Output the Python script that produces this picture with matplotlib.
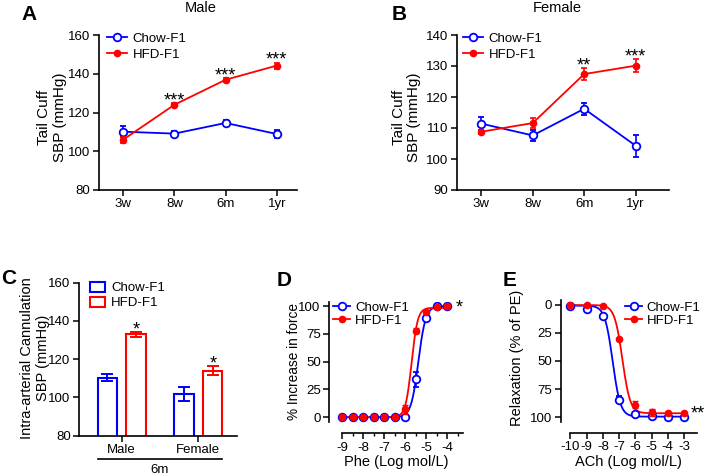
import numpy as np
import matplotlib
matplotlib.use("Agg")
import matplotlib.pyplot as plt
import matplotlib.transforms as mtransforms
from matplotlib.lines import Line2D
from matplotlib.patches import Patch
from matplotlib.ticker import FixedLocator

plt.rcParams["font.family"] = ["Liberation Sans", "DejaVu Sans"]
plt.rcParams["axes.unicode_minus"] = False

BLUE = "#0000ff"
RED = "#ff0000"

# --- A / B: tail cuff SBP over age ---
ages = ["3w", "8w", "6m", "1yr"]
male_chow = [110.1, 109.1, 114.6, 108.9]
male_chow_err = [2.8, 1.4, 1.4, 2.0]
male_hfd = [106.0, 124.0, 136.9, 144.2]
male_hfd_err = [1.6, 0.7, 1.1, 1.6]
male_stars = ["", "***", "***", "***"]

female_chow = [111.4, 107.6, 116.2, 104.3]
female_chow_err = [2.0, 1.7, 2.0, 3.5]
female_hfd = [108.8, 111.6, 127.4, 130.1]
female_hfd_err = [0.7, 1.6, 1.8, 2.0]
female_stars = ["", "", "**", "***"]

# --- C: intra-arterial SBP at 6m ---
sexes = ["Male", "Female"]
ia_chow = [110.4, 101.9]
ia_chow_err = [1.8, 3.7]
ia_hfd = [133.0, 113.9]
ia_hfd_err = [1.3, 2.4]
ia_stars = ["*", "*"]

# --- D: phenylephrine contraction ---
phe_x = [-9, -8.5, -8, -7.5, -7, -6.5, -6, -5.5, -5, -4.5, -4]
phe_chow = [0, 0, 0, 0, 0, 0, 0, 34, 89, 100, 100]
phe_chow_err = [0, 0, 0, 0, 0, 0, 0, 7, 2, 1, 0.5]
phe_hfd = [0, 0, 0, 0, 0, 0, 7, 78, 95, 99, 100]
phe_hfd_err = [0, 0, 0, 0, 0, 0, 4, 2, 1, 1, 0.5]

# --- E: acetylcholine relaxation ---
ach_x = [-10, -9, -8, -7, -6, -5, -4, -3]
ach_chow = [1, 4, 10, 84.5, 97.6, 99, 100, 100]
ach_chow_err = [0.5, 0.5, 0.5, 3, 1, 1, 0.5, 0.5]
ach_hfd = [0, 0.5, 1, 30.5, 89, 95.5, 96.5, 96.5]
ach_hfd_err = [0.5, 0.5, 0.5, 1, 3, 3, 1, 1]

# sigmoid fit parameters: bottom, top, logEC50, hill
phe_chow_fit = (0, 100, -5.38, 2.5)
phe_hfd_fit = (0, 98.5, -5.70, 3.0)
ach_chow_fit = (1, 99.5, -7.40, 1.8)
ach_hfd_fit = (0.5, 96.5, -6.80, 1.8)

W, H = 708, 476
fig = plt.figure(figsize=(W / 100, H / 100), dpi=100)
fig.patch.set_facecolor("white")


def fx(px):
    return px / W


def fy(py):
    return 1 - py / H


def add_axes(l, t, r, b):
    return fig.add_axes([fx(l), fy(b), fx(r) - fx(l), fy(t) - fy(b)])


def style(ax):
    for s in ("top", "right"):
        ax.spines[s].set_visible(False)
    for s in ("left", "bottom"):
        ax.spines[s].set_linewidth(1.2)
    ax.tick_params(direction="out", length=4, width=1.1, labelsize=9.5, pad=2)
    ax.tick_params(which="minor", direction="out", length=2.5, width=1.0)
    ax.set_facecolor("none")


def sigmoid(x, bottom, top, logec50, hill):
    return bottom + (top - bottom) / (1 + 10 ** (hill * (logec50 - x)))


def line_handles():
    return [
        Line2D([], [], color=BLUE, lw=1.3, marker="o", ms=5.5, mfc="white",
               mec=BLUE, mew=1.3, label="Chow-F1"),
        Line2D([], [], color=RED, lw=1.3, marker="o", ms=4.5, mfc=RED,
               mec=RED, label="HFD-F1"),
    ]


def legend_at(ax, handles, left_px, top_px, spacing, hlen=1.45, pad=0.4):
    ax.legend(handles=handles, loc="upper left",
              bbox_to_anchor=(fx(left_px), fy(top_px)),
              bbox_transform=fig.transFigure, frameon=False, fontsize=9.5,
              borderpad=0, borderaxespad=0, handlelength=hlen,
              handletextpad=pad, labelspacing=spacing)


def stars(ax, xs, ys, errs, labels):
    for x, y, e, s in zip(xs, ys, errs, labels):
        if s:
            ax.annotate(s, (x, y + e), xytext=(0, 1.5), textcoords="offset points",
                        ha="center", va="center", fontsize=13)


def time_panel(ax, chow, chow_err, hfd, hfd_err, star_lbl, ylim, yticks, xmax):
    style(ax)
    x = np.arange(len(ages))
    ax.errorbar(x, chow, yerr=chow_err, color=BLUE, lw=1.3, marker="o", ms=5.5,
                mfc="white", mec=BLUE, mew=1.3, capsize=2.5, elinewidth=1.2,
                capthick=1.2, zorder=3)
    ax.errorbar(x, hfd, yerr=hfd_err, color=RED, lw=1.3, marker="o", ms=4.5,
                mfc=RED, mec=RED, capsize=2.5, elinewidth=1.2, capthick=1.2,
                zorder=4)
    stars(ax, x, hfd, hfd_err, star_lbl)
    ax.set_xlim(-0.48, xmax)
    ax.set_ylim(*ylim)
    ax.set_yticks(yticks)
    ax.set_xticks(x)
    ax.set_xticklabels(ages)


# A
axA = add_axes(98.7, 35, 296.7, 190)
time_panel(axA, male_chow, male_chow_err, male_hfd, male_hfd_err, male_stars,
           (80, 160), np.arange(80, 161, 20), 3.39)
legend_at(axA, line_handles(), 107, 32.5, 0.3, hlen=1.55)
fig.text(fx(201), fy(8), "Male", ha="center", va="center", fontsize=10.5)
fig.text(fx(52), fy(117), "Tail Cuff\nSBP (mmHg)", rotation=90, ha="center",
         va="center", multialignment="center", fontsize=11, linespacing=1.1)
fig.text(fx(28.7), fy(15), "A", ha="center", va="center", fontsize=15,
         fontweight="bold")

# B
axB = add_axes(456.7, 35, 669, 190)
time_panel(axB, female_chow, female_chow_err, female_hfd, female_hfd_err,
           female_stars, (90, 140), np.arange(90, 141, 10), 3.65)
legend_at(axB, line_handles(), 463, 32.5, 0.3, hlen=1.55)
fig.text(fx(557), fy(8), "Female", ha="center", va="center", fontsize=10.5)
fig.text(fx(406.5), fy(117), "Tail Cuff\nSBP (mmHg)", rotation=90, ha="center",
         va="center", multialignment="center", fontsize=11, linespacing=1.1)
fig.text(fx(398.7), fy(15), "B", ha="center", va="center", fontsize=15,
         fontweight="bold")

# C
axC = add_axes(79, 282.7, 236.7, 435.7)
style(axC)
gx = np.arange(len(sexes))
off, bw = 0.188, 0.253
axC.bar(gx - off, ia_chow, width=bw, facecolor="white", edgecolor=BLUE, lw=1.5)
axC.bar(gx + off, ia_hfd, width=bw, facecolor="white", edgecolor=RED, lw=1.5)
axC.errorbar(gx - off, ia_chow, yerr=ia_chow_err, fmt="none", ecolor=BLUE,
             elinewidth=1.4, capsize=4, capthick=1.4)
axC.errorbar(gx + off, ia_hfd, yerr=ia_hfd_err, fmt="none", ecolor=RED,
             elinewidth=1.4, capsize=4, capthick=1.4)
stars(axC, gx + off, ia_hfd, ia_hfd_err, ia_stars)
axC.set_xlim(-0.557, 1.5)
axC.set_ylim(80, 160)
axC.set_yticks(np.arange(80, 161, 20))
axC.set_xticks(gx)
axC.set_xticklabels(sexes)
axC.legend(handles=[Patch(facecolor="white", edgecolor=BLUE, lw=1.5, label="Chow-F1"),
                    Patch(facecolor="white", edgecolor=RED, lw=1.5, label="HFD-F1")],
           loc="upper left", bbox_to_anchor=(fx(90), fy(281.5)),
           bbox_transform=fig.transFigure, frameon=False, fontsize=9.5,
           borderpad=0, borderaxespad=0, handlelength=1.1, handleheight=0.8,
           handletextpad=0.5, labelspacing=0.2)
trC = mtransforms.blended_transform_factory(axC.transData, axC.transAxes)
axC.plot([gx[0] - off - bw / 2, gx[-1] + off + bw / 2], [-0.154, -0.154],
         color="black", lw=1.2, transform=trC, clip_on=False)
axC.text(np.mean(gx), -0.225, "6m", transform=trC, ha="center", va="center",
         fontsize=9.5)
fig.text(fx(35), fy(358), "Intra-arterial Cannulation\nSBP (mmHg)", rotation=90,
         ha="center", va="center", multialignment="center", fontsize=10.5,
         linespacing=1.1)
fig.text(fx(9), fy(278), "C", ha="center", va="center", fontsize=15,
         fontweight="bold")

# D
axD = add_axes(329, 301.7, 463, 421.7)
style(axD)
xs = np.linspace(-9, -4, 300)
axD.plot(xs, sigmoid(xs, *phe_chow_fit), color=BLUE, lw=1.3, zorder=2)
axD.plot(xs, sigmoid(xs, *phe_hfd_fit), color=RED, lw=1.3, zorder=2)
axD.errorbar(phe_x, phe_chow, yerr=phe_chow_err, fmt="o", color=BLUE, ms=5.5,
             mfc="white", mec=BLUE, mew=1.3, capsize=2.5, elinewidth=1.2, zorder=3)
axD.errorbar(phe_x, phe_hfd, yerr=phe_hfd_err, fmt="o", color=RED, ms=4.5,
             mfc=RED, mec=RED, capsize=2.5, elinewidth=1.2, zorder=4)
axD.set_xlim(-9.62, -3.26)
axD.set_ylim(-4, 104)
axD.set_yticks([0, 25, 50, 75, 100])
axD.xaxis.set_major_locator(FixedLocator([-9, -8, -7, -6, -5, -4]))
axD.xaxis.set_minor_locator(FixedLocator([-8.5, -7.5, -6.5, -5.5, -4.5, -3.5]))
axD.spines["bottom"].set_position(("outward", 8.4))
axD.spines["bottom"].set_bounds(-9, -3.26)
axD.set_xlabel("Phe (Log mol/L)", fontsize=10.5, labelpad=1)
legend_at(axD, line_handles(), 333.3, 301.5, 0.05, hlen=1.3, pad=0.35)
fig.text(fx(459), fy(308), "*", ha="center", va="center", fontsize=13)
fig.text(fx(293.5), fy(362), "% Increase in force", rotation=90, ha="center",
         va="center", fontsize=9.8)
fig.text(fx(284.3), fy(280), "D", ha="center", va="center", fontsize=15,
         fontweight="bold")

# E
axE = add_axes(560.7, 300, 697, 421.7)
style(axE)
xs = np.linspace(-10, -3, 300)
axE.plot(xs, sigmoid(xs, *ach_chow_fit), color=BLUE, lw=1.3, zorder=2)
axE.plot(xs, sigmoid(xs, *ach_hfd_fit), color=RED, lw=1.3, zorder=2)
axE.errorbar(ach_x, ach_chow, yerr=ach_chow_err, fmt="o", color=BLUE, ms=5.5,
             mfc="white", mec=BLUE, mew=1.3, capsize=2.5, elinewidth=1.2, zorder=3)
axE.errorbar(ach_x, ach_hfd, yerr=ach_hfd_err, fmt="o", color=RED, ms=4.5,
             mfc=RED, mec=RED, capsize=2.5, elinewidth=1.2, zorder=4)
axE.set_xlim(-10.6, -2.2)
axE.set_ylim(104, -4)
axE.set_yticks([0, 25, 50, 75, 100])
axE.set_xticks(ach_x)
axE.spines["bottom"].set_position(("outward", 8.0))
axE.spines["bottom"].set_bounds(-10, -2.2)
axE.set_xlabel("ACh (Log mol/L)", fontsize=10.5, labelpad=1)
legend_at(axE, line_handles(), 625, 301.5, 0.05, hlen=1.3, pad=0.35)
fig.text(fx(697.7), fy(414), "**", ha="center", va="center", fontsize=13)
fig.text(fx(517), fy(358), "Relaxation (% of PE)", rotation=90, ha="center",
         va="center", fontsize=10.5)
fig.text(fx(510), fy(280.3), "E", ha="center", va="center", fontsize=15,
         fontweight="bold")

fig.savefig("out.png", dpi=100)
